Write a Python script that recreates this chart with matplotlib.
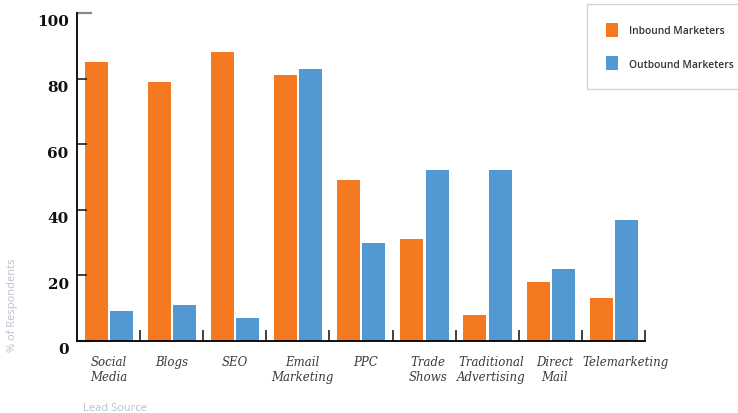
import matplotlib
matplotlib.use("Agg")
import matplotlib.pyplot as plt
import matplotlib.transforms as mtransforms
import numpy as np

# lead sources and % of respondents per group
sources = ["Social\nMedia", "Blogs", "SEO", "Email\nMarketing", "PPC",
           "Trade\nShows", "Traditional\nAdvertising", "Direct\nMail", "Telemarketing"]
inbound = [85, 79, 88, 81, 49, 31, 8, 18, 13]
outbound = [9, 11, 7, 83, 30, 52, 52, 22, 37]
yticks = [0, 20, 40, 60, 80, 100]

orange = "#F47920"
blue = "#5298D2"

fig = plt.figure(figsize=(7.38, 4.14), dpi=100)
ax = fig.add_axes([77/738, 1-342/414, (645-77)/738, (342-14)/414])

x = np.arange(len(sources)) + 0.5
w = 0.365
b1 = ax.bar(x - 0.195, inbound, w, color=orange, label="Inbound Marketers")
b2 = ax.bar(x + 0.205, outbound, w, color=blue, label="Outbound Marketers")

ax.set_xlim(0, len(sources))
ax.set_ylim(0, 100)

for s in ["top", "right"]:
    ax.spines[s].set_visible(False)
ax.spines["left"].set_linewidth(1.3)
ax.spines["bottom"].set_linewidth(1.3)

ax.set_yticks(yticks)
ax.set_yticklabels([str(v) for v in yticks], fontfamily="DejaVu Serif",
                   fontweight="bold", fontsize=11, color="#111111")
ax.tick_params(axis="y", direction="in", length=7, width=1.2, pad=6, color="#222222")
# numbers sit a little below their tick
down = mtransforms.ScaledTranslation(0, -5/72, fig.dpi_scale_trans)
for lbl in ax.get_yticklabels():
    lbl.set_transform(lbl.get_transform() + down)
# top and bottom y ticks are drawn longer and grey
for t in (ax.yaxis.get_major_ticks()[0], ax.yaxis.get_major_ticks()[-1]):
    t.tick1line.set_markeredgecolor("#8A8A8A")
    t.tick1line.set_markersize(11)
    t.tick1line.set_markeredgewidth(1.6)

ax.set_xticks(x)
ax.set_xticklabels(sources, fontfamily="DejaVu Serif", fontstyle="italic",
                   fontsize=8.5, color="#3A3A3A", linespacing=1.25)
ax.tick_params(axis="x", which="major", length=0, pad=10)
right = mtransforms.ScaledTranslation(3/72, 0, fig.dpi_scale_trans)
for i, lbl in enumerate(ax.get_xticklabels()):
    if i >= 3:
        lbl.set_transform(lbl.get_transform() + right)
last = ax.get_xticklabels()[-1]
last.set_transform(last.get_transform() + mtransforms.ScaledTranslation(6/72, 0, fig.dpi_scale_trans))
ax.set_xticks(np.arange(1, len(sources) + 1), minor=True)
ax.tick_params(axis="x", which="minor", direction="in", length=8, width=1.2, color="#222222")

fig.text(12/738, 1-305/414, "% of Respondents", rotation=90, ha="center", va="center",
         fontsize=8, color="#B8C0CE", fontfamily="Open Sans")
fig.text(115/738, 1-409/414, "Lead Source", ha="center", va="center",
         fontsize=8, color="#B8C0CE", fontfamily="Open Sans")

leg = ax.legend(handles=[b1, b2], loc="upper left", bbox_to_anchor=(587/738, 1-5/414),
                bbox_transform=fig.transFigure, borderaxespad=0, borderpad=1.8,
                handlelength=1.25, handleheight=1.75, handletextpad=1.0, labelspacing=1.9,
                fancybox=False, frameon=True, edgecolor="#C8C8C8",
                prop={"family": "Open Sans", "weight": "semibold", "size": 7.4})
leg.get_frame().set_linewidth(1.0)
for t in leg.get_texts():
    t.set_color("#333333")

fig.savefig("out.png", dpi=100)
